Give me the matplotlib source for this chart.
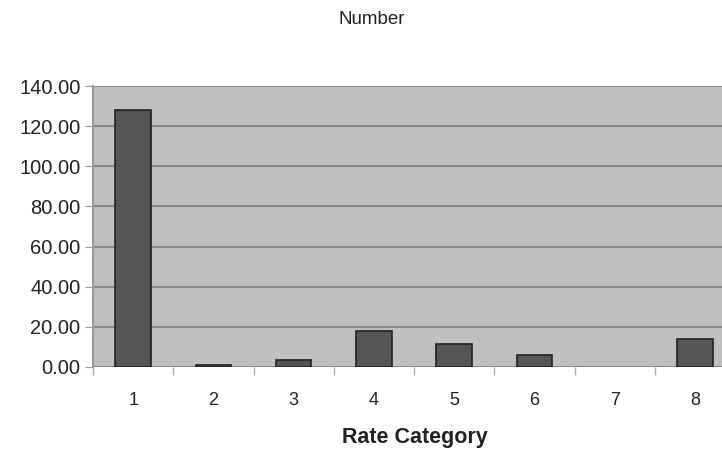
import matplotlib
matplotlib.use("Agg")
import matplotlib.pyplot as plt
from matplotlib.ticker import FormatStrFormatter, MultipleLocator

categories = ["1", "2", "3", "4", "5", "6", "7", "8"]
values = [128, 1, 3.5, 18, 11.5, 6, 0, 14]

plt.rcParams['font.family'] = ['Liberation Sans', 'DejaVu Sans']

fig = plt.figure(figsize=(7.22, 4.5), dpi=100)
ax = fig.add_axes([93/722, (450-367)/450, (735-93)/722, (367-86)/450])
ax.set_facecolor('#c0c0c0')
x = list(range(len(categories)))
lws = [1.2 if v > 0 else 0 for v in values]
ax.bar(x, values, width=0.44, color='#555555', edgecolor='#222222', linewidth=lws, zorder=3)
ax.set_xlim(-0.5, len(categories) - 0.5)
ax.set_ylim(0, 140)
ax.yaxis.set_major_locator(MultipleLocator(20))
ax.yaxis.set_major_formatter(FormatStrFormatter('%.2f'))
ax.grid(axis='y', color='#8a8a8a', linewidth=1.5, zorder=1)
ax.set_xticks(x)
ax.set_xticklabels(categories)
ax.set_xticks([i + 0.5 for i in range(-1, len(categories))], minor=True)
ax.tick_params(axis='x', which='major', length=0, pad=18, labelsize=13, colors='#222222')
ax.tick_params(axis='x', which='minor', length=6, color='#aaaaaa', width=1)
ax.tick_params(axis='y', length=6, color='#999999', labelsize=14.5, pad=3, labelcolor='#222222')
for s in ['top', 'right', 'bottom']:
    ax.spines[s].set_visible(False)
ax.spines['left'].set_color('#999999')
ax.spines['left'].set_linewidth(1.5)
fig.text(415/722, 1 - 443/450, 'Rate Category', ha='center', va='baseline',
         fontsize=15.5, fontweight='bold', color='#222222')
fig.text(372/722, 1 - 19/450, 'Number', ha='center', va='center', fontsize=13.5, color='#222222')
fig.savefig('out.png', dpi=100)
